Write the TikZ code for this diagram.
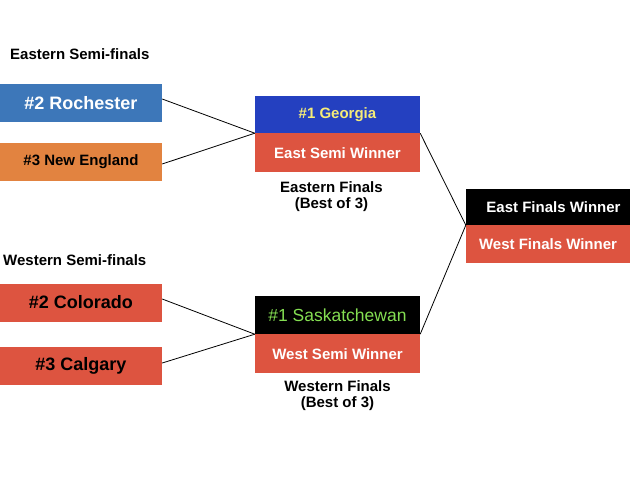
\documentclass[tikz,border=0pt]{standalone}
\usepackage{fontspec}
\setmainfont{Liberation Sans}
\usetikzlibrary{positioning}
\definecolor{bracketblue}{RGB}{61,119,185}
\definecolor{bracketnavy}{RGB}{36,64,192}
\definecolor{bracketorange}{RGB}{226,131,64}
\definecolor{bracketred}{RGB}{221,84,64}
\definecolor{bracketyellow}{RGB}{246,236,120}
\definecolor{bracketgreen}{RGB}{132,222,82}

\begin{document}
\begin{tikzpicture}[x=1pt,y=-1pt,
 team/.style={rectangle,inner sep=0pt,text=white,font=\bfseries\fontsize{15}{15}\selectfont},
 seed/.style={team,minimum width=162pt,minimum height=38pt,font=\bfseries\fontsize{18}{18}\selectfont},
 final/.style={team,minimum width=165pt,minimum height=38pt},
 champ/.style={team,minimum width=164pt,minimum height=37pt},
 heading/.style={font=\bfseries\fontsize{15}{16}\selectfont,align=center,inner sep=0pt},
 link/.style={line width=0.8pt}]
 \useasboundingbox[fill=white] (0,0) rectangle (640,480);
 % Ueberschriften links.
 \node[heading,anchor=west] (eastlabel) at (10,54) {Eastern Semi-finals};
 \node[heading,anchor=west] (westlabel) at (3,260) {Western Semi-finals};
 % Halbfinale Ost und West.
 \node[seed,fill=bracketblue] (roch) at (81,103) {\#2 Rochester};
 \node[seed,fill=bracketorange,text=black,
       font=\bfseries\fontsize{15}{15}\selectfont] (neweng) at (81,162) {\#3 New England};
 \node[seed,fill=bracketred,text=black] (colorado) at (81,302.5) {\#2 Colorado};
 \node[seed,fill=bracketred,text=black] (calgary) at (81,366) {\#3 Calgary};
 % Finale Ost.
 \node[final,fill=bracketnavy,text=bracketyellow,minimum height=37pt] (georgia) at (337.5,114.5) {\#1 Georgia};
 \node[final,fill=bracketred,minimum height=39pt,below=0pt of georgia] (eastsemi) {East Semi Winner};
 \node[heading,below=9pt of eastsemi,xshift=-6pt] (eastfinals) {Eastern Finals\\(Best of 3)};
 % Finale West.
 \node[final,fill=black,text=bracketgreen,
       font=\fontsize{17.5}{17.5}\selectfont] (sask) at (337.5,315) {\#1 Saskatchewan};
 \node[final,fill=bracketred,minimum height=39pt,below=0pt of sask] (westsemi) {West Semi Winner};
 \node[heading,below=7pt of westsemi] (westfinals) {Western Finals\\(Best of 3)};
 % Meisterschaft.
 \node[champ,fill=black,minimum height=36pt] (eastfin) at (548,207) {\hspace*{11pt}East Finals Winner};
 \node[champ,fill=bracketred,minimum height=38pt,below=0pt of eastfin] (westfin) {West Finals Winner};
 % Verbindungen.
 \draw[link] ([yshift=4pt]roch.east) -- (georgia.south west);
 \draw[link] ([yshift=-2pt]neweng.east) -- (georgia.south west);
 \draw[link] ([yshift=3.5pt]colorado.east) -- (sask.south west);
 \draw[link] ([yshift=3pt]calgary.east) -- (sask.south west);
 \draw[link] (georgia.south east) -- (eastfin.south west);
 \draw[link] (sask.south east) -- (eastfin.south west);
\end{tikzpicture}
\end{document}
